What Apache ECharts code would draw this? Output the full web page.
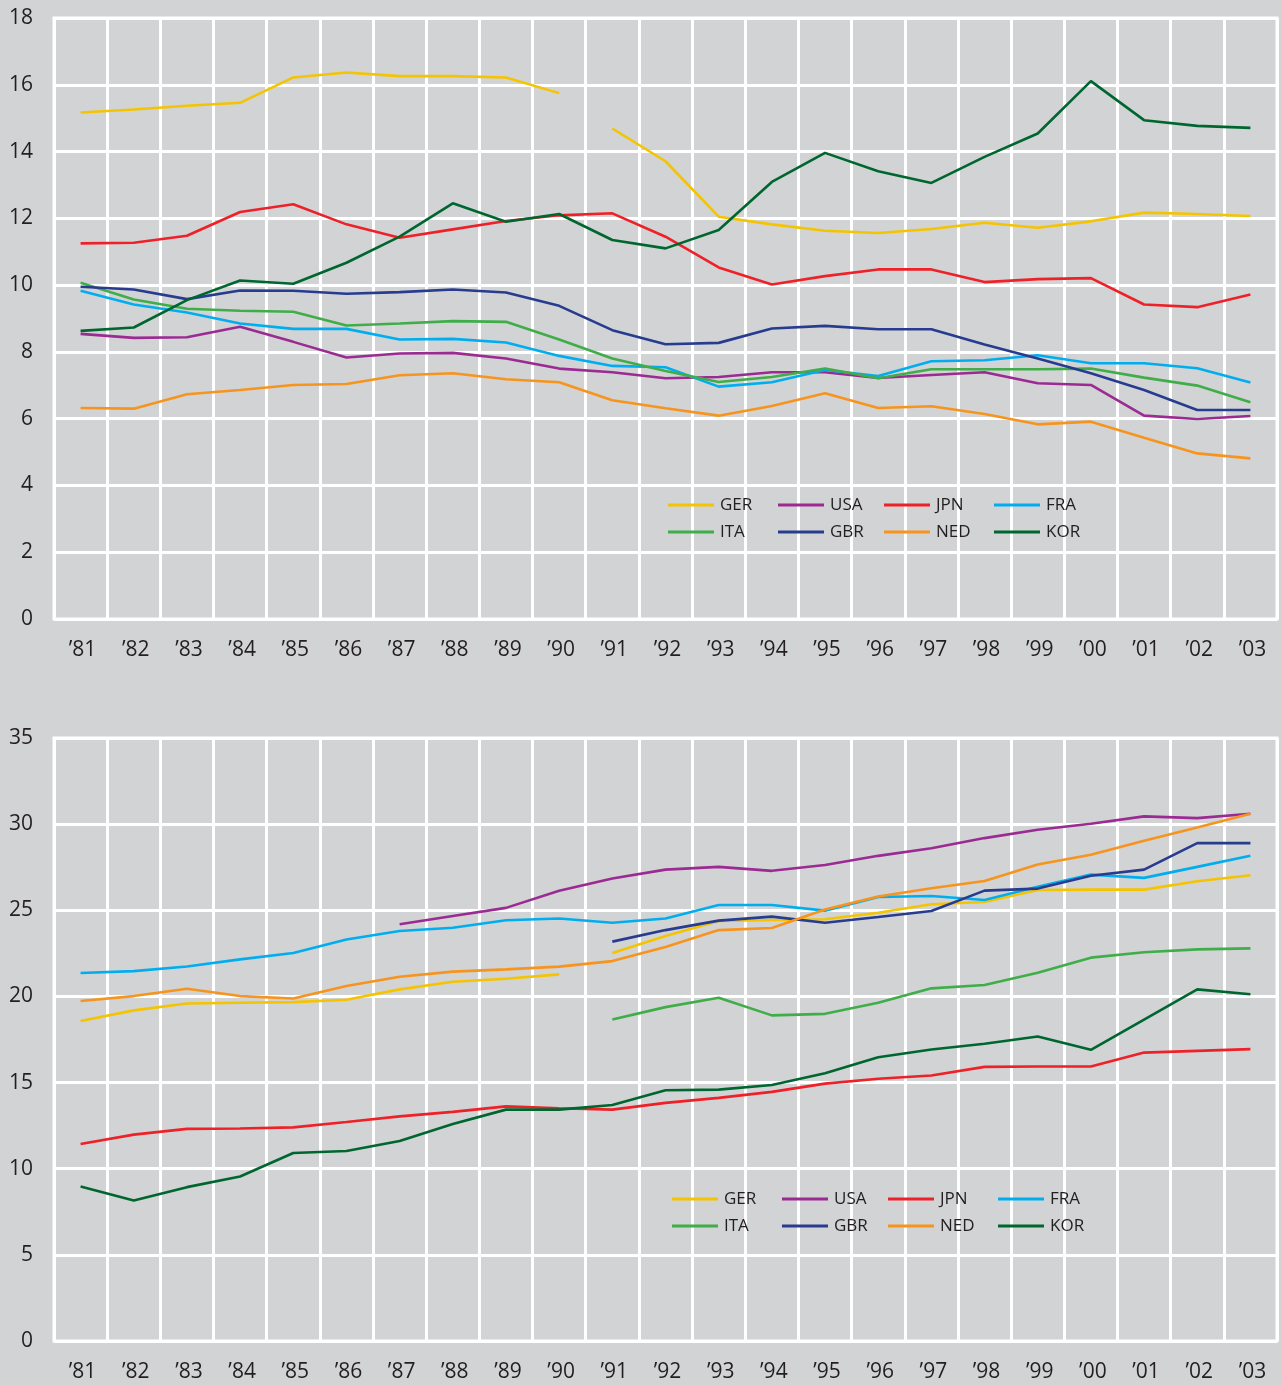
<!DOCTYPE html>
<html>
<head>
<meta charset="utf-8">
<script src="https://cdn.jsdelivr.net/npm/echarts@6/dist/echarts.min.js"></script>
<style>
html, body { margin: 0; padding: 0; background: #d1d3d4; }
#main { width: 1282px; height: 1385px; }
</style>
</head>
<body>
<div id="main"></div>
<script>
var years = ['’81', '’82', '’83', '’84', '’85', '’86', '’87', '’88', '’89', '’90', '’91', '’92',
    '’93', '’94', '’95', '’96', '’97', '’98', '’99', '’00', '’01', '’02', '’03'];

var countries = ['GER', 'USA', 'JPN', 'FRA', 'ITA', 'GBR', 'NED', 'KOR'];
var colors = ['#f5c400', '#9b2a92', '#ee2129', '#00aeef', '#3fae49', '#283c8f', '#f7941d', '#00662f'];

// upper panel
var topGER = [15.17, 15.26, 15.37, 15.46, 16.22, 16.37, 16.26, 16.26, 16.22, 15.75, 14.69, 13.71, 12.05, 11.82, 11.63, 11.56, 11.68, 11.87, 11.72, 11.91, 12.17, 12.13, 12.07];
var topUSA = [8.54, 8.42, 8.44, 8.75, 8.3, 7.83, 7.95, 7.97, 7.8, 7.5, 7.39, 7.21, 7.25, 7.39, 7.39, 7.22, 7.31, 7.39, 7.06, 7.01, 6.09, 5.99, 6.08];
var topJPN = [11.25, 11.27, 11.48, 12.19, 12.42, 11.82, 11.42, 11.67, 11.92, 12.09, 12.15, 11.45, 10.53, 10.02, 10.27, 10.47, 10.47, 10.09, 10.18, 10.21, 9.42, 9.34, 9.72];
var topFRA = [9.83, 9.42, 9.18, 8.85, 8.69, 8.69, 8.37, 8.39, 8.28, 7.88, 7.58, 7.54, 6.96, 7.09, 7.46, 7.28, 7.72, 7.75, 7.9, 7.66, 7.66, 7.51, 7.08];
var topITA = [10.07, 9.57, 9.29, 9.23, 9.2, 8.79, 8.85, 8.92, 8.9, 8.37, 7.8, 7.43, 7.1, 7.25, 7.5, 7.21, 7.48, 7.48, 7.48, 7.5, 7.23, 6.99, 6.49];
var topGBR = [9.95, 9.87, 9.58, 9.84, 9.83, 9.74, 9.79, 9.87, 9.78, 9.38, 8.65, 8.23, 8.27, 8.7, 8.78, 8.68, 8.68, 8.22, 7.8, 7.36, 6.86, 6.26, 6.26];
var topNED = [6.32, 6.3, 6.73, 6.86, 7.01, 7.04, 7.3, 7.36, 7.18, 7.09, 6.55, 6.31, 6.09, 6.38, 6.76, 6.32, 6.37, 6.14, 5.83, 5.91, 5.43, 4.96, 4.81];
var topKOR = [8.63, 8.73, 9.55, 10.14, 10.04, 10.67, 11.45, 12.45, 11.9, 12.13, 11.35, 11.1, 11.65, 13.09, 13.96, 13.41, 13.06, 13.84, 14.54, 16.11, 14.94, 14.77, 14.71];

// lower panel
var botGER = [18.57, 19.19, 19.59, 19.63, 19.67, 19.81, 20.41, 20.85, 21.03, 21.28, 22.52, 23.51, 24.38, 24.44, 24.48, 24.86, 25.35, 25.48, 26.18, 26.2, 26.2, 26.69, 27.03];
var botUSA = [null, null, null, null, null, null, 24.19, 24.67, 25.14, 26.13, 26.84, 27.36, 27.52, 27.29, 27.63, 28.16, 28.6, 29.19, 29.67, 30.02, 30.45, 30.35, 30.6];
var botJPN = [11.43, 11.98, 12.31, 12.33, 12.4, 12.71, 13.04, 13.3, 13.62, 13.51, 13.43, 13.82, 14.11, 14.46, 14.94, 15.22, 15.41, 15.91, 15.93, 15.93, 16.74, 16.84, 16.94];
var botFRA = [21.36, 21.47, 21.74, 22.15, 22.52, 23.3, 23.8, 23.99, 24.42, 24.52, 24.28, 24.52, 25.31, 25.31, 24.98, 25.77, 25.83, 25.6, 26.36, 27.07, 26.88, 27.52, 28.16];
var botITA = [null, null, null, null, null, null, null, null, null, null, 18.66, 19.38, 19.92, 18.9, 18.99, 19.63, 20.47, 20.66, 21.38, 22.25, 22.56, 22.73, 22.79];
var botGBR = [null, null, null, null, null, null, null, null, null, null, 23.18, 23.85, 24.4, 24.63, 24.28, 24.61, 24.96, 26.14, 26.26, 27.0, 27.36, 28.9, 28.9];
var botNED = [19.73, 20.02, 20.45, 20.02, 19.88, 20.6, 21.14, 21.44, 21.57, 21.73, 22.05, 22.87, 23.85, 23.97, 25.04, 25.8, 26.28, 26.7, 27.66, 28.22, 29.03, 29.81, 30.6];
var botKOR = [8.97, 8.16, 8.93, 9.55, 10.91, 11.03, 11.61, 12.6, 13.43, 13.43, 13.7, 14.55, 14.59, 14.86, 15.54, 16.47, 16.92, 17.25, 17.67, 16.9, 18.66, 20.41, 20.13];

// GER series has a break between '90 and '91 in both panels
var gerBreak = 10;

var topData = [topGER, topUSA, topJPN, topFRA, topITA, topGBR, topNED, topKOR];
var botData = [botGER, botUSA, botJPN, botFRA, botITA, botGBR, botNED, botKOR];

var chart = echarts.init(document.getElementById('main'), null, { renderer: 'canvas' });

var font = 'Open Sans, Noto Sans, sans-serif';
var ink = '#231f20';

function lineSeries(name, color, data, idx) {
    return {
        name: name,
        type: 'line',
        xAxisIndex: idx,
        yAxisIndex: idx,
        data: data,
        symbol: 'none',
        connectNulls: false,
        lineStyle: { color: color, width: 2.6 },
        itemStyle: { color: color },
        emphasis: { disabled: true },
        animation: false
    };
}

var series = [];
[topData, botData].forEach(function (panel, p) {
    panel.forEach(function (arr, i) {
        if (countries[i] == 'GER') {
            var a = arr.map(function (v, k) { return k < gerBreak ? v : null; });
            var b = arr.map(function (v, k) { return k >= gerBreak ? v : null; });
            series.push(lineSeries('GER', colors[i], a, p));
            series.push(lineSeries('GER', colors[i], b, p));
        } else {
            series.push(lineSeries(countries[i], colors[i], arr, p));
        }
    });
});

// one legend per entry so they sit in a fixed 4x2 grid
var legendCols = [[668, 778, 884, 994], [672, 782, 888, 998]];
var legendRows = [[505, 532], [1199, 1226]];
var legends = [];
for (var p = 0; p < 2; p++) {
    for (var i = 0; i < countries.length; i++) {
        legends.push({
            data: [countries[i]],
            left: legendCols[p][i % 4],
            top: legendRows[p][Math.floor(i / 4)] - 10,
            icon: 'rect',
            itemWidth: 46,
            itemHeight: 3,
            itemGap: 0,
            padding: 0,
            selectedMode: false,
            textStyle: { fontFamily: font, fontSize: 17, color: ink, lineHeight: 20, padding: [0, 0, 0, 1] }
        });
    }
}

var grids = [
    { left: 54, top: 18, width: 1223, height: 601 },
    { left: 54, top: 738, width: 1223, height: 603 }
];
grids.forEach(function (g) {
    g.show = true;
    g.borderColor = '#ffffff';
    g.borderWidth = 3;
    g.backgroundColor = 'transparent';
});

function xAxisFor(idx) {
    return {
        type: 'category',
        gridIndex: idx,
        data: years,
        boundaryGap: true,
        axisLine: { show: false },
        axisTick: { show: false },
        axisLabel: { fontFamily: font, fontSize: 21, color: ink, margin: 21, padding: [0, 0, 0, 4] },
        splitLine: { show: true, lineStyle: { color: '#ffffff', width: 3 } }
    };
}

function yAxisFor(idx, max, step) {
    return {
        type: 'value',
        gridIndex: idx,
        min: 0,
        max: max,
        interval: step,
        axisLine: { show: false },
        axisTick: { show: false },
        axisLabel: { fontFamily: font, fontSize: 21, color: ink, margin: 21 },
        splitLine: { show: true, lineStyle: { color: '#ffffff', width: 3 } }
    };
}

var option = {
    backgroundColor: '#d1d3d4',
    animation: false,
    grid: grids,
    legend: legends,
    xAxis: [xAxisFor(0), xAxisFor(1)],
    yAxis: [yAxisFor(0, 18, 2), yAxisFor(1, 35, 5)],
    series: series
};

chart.setOption(option);
</script>
</body>
</html>
